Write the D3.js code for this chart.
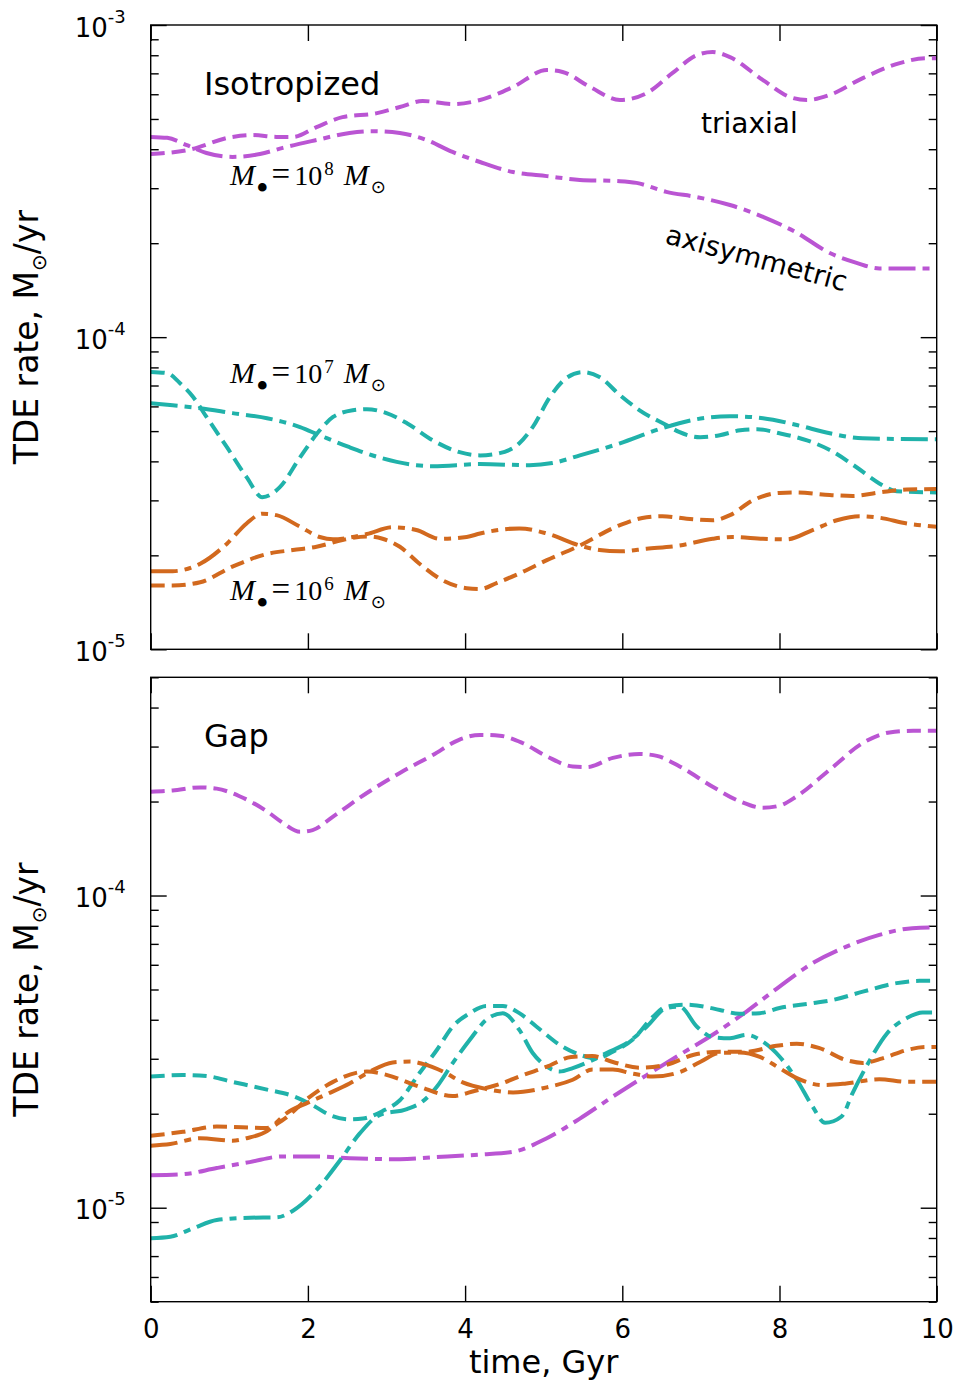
<!DOCTYPE html>
<html>
<head>
<meta charset="utf-8">
<script src="https://cdn.jsdelivr.net/npm/d3@7"></script>
<style>
  body { margin: 0; background: #fff; }
  svg { display: block; }
  text { fill: #000; }
</style>
</head>
<body>
<svg id="chart" width="961" height="1387" font-family="DejaVu Sans, sans-serif"></svg>
<script>
// time axis (Gyr)
const timeTicks = [0, 2, 4, 6, 8, 10];

// Isotropized panel: [time, rate]
const isoTriax8 = [[0,3.86e-4],[0.46,3.97e-4],[1.04,4.38e-4],[1.30,4.44e-4],[1.60,4.38e-4],[1.81,4.38e-4],[2.11,4.71e-4],[2.44,5.07e-4],[2.88,5.22e-4],[3.17,5.46e-4],[3.46,5.71e-4],[3.84,5.58e-4],[4.19,5.75e-4],[4.61,6.33e-4],[5.04,7.17e-4],[5.24,7.07e-4],[5.59,6.33e-4],[5.97,5.75e-4],[6.31,6.05e-4],[6.64,7.02e-4],[6.95,8.01e-4],[7.15,8.19e-4],[7.37,7.89e-4],[7.79,6.66e-4],[8.13,5.88e-4],[8.35,5.75e-4],[8.64,5.97e-4],[9.06,6.76e-4],[9.53,7.55e-4],[9.87,7.83e-4],[10,7.83e-4]];
const isoAxi8 = [[0,4.38e-4],[0.21,4.35e-4],[0.46,4.12e-4],[0.71,3.89e-4],[1.04,3.78e-4],[1.39,3.86e-4],[1.68,4.04e-4],[2.11,4.28e-4],[2.53,4.51e-4],[2.82,4.57e-4],[3.17,4.51e-4],[3.51,4.28e-4],[3.84,3.92e-4],[4.19,3.64e-4],[4.61,3.38e-4],[5.04,3.28e-4],[5.46,3.19e-4],[5.97,3.16e-4],[6.18,3.12e-4],[6.56,2.92e-4],[6.95,2.81e-4],[7.37,2.65e-4],[7.79,2.43e-4],[8.22,2.16e-4],[8.64,1.86e-4],[8.98,1.73e-4],[9.27,1.66e-4],[10,1.66e-4]];
const isoTriax7 = [[0,7.74e-5],[0.21,7.67e-5],[0.37,7.13e-5],[0.54,6.43e-5],[0.71,5.55e-5],[0.97,4.44e-5],[1.22,3.56e-5],[1.42,3.07e-5],[1.64,3.30e-5],[1.90,4.12e-5],[2.15,5.03e-5],[2.32,5.55e-5],[2.57,5.83e-5],[2.75,5.88e-5],[3.00,5.71e-5],[3.26,5.30e-5],[3.59,4.67e-5],[3.93,4.28e-5],[4.19,4.18e-5],[4.44,4.25e-5],[4.69,4.57e-5],[4.86,5.15e-5],[5.08,6.43e-5],[5.29,7.40e-5],[5.50,7.73e-5],[5.71,7.45e-5],[5.97,6.52e-5],[6.22,5.83e-5],[6.56,5.23e-5],[6.73,4.96e-5],[6.99,4.78e-5],[7.24,4.85e-5],[7.50,5.03e-5],[7.72,5.07e-5],[8.00,4.92e-5],[8.35,4.67e-5],[8.64,4.35e-5],[8.98,3.83e-5],[9.27,3.40e-5],[9.49,3.21e-5],[10,3.18e-5]];
const isoAxi7 = [[0,6.14e-5],[0.28,6.05e-5],[0.63,5.92e-5],[1.04,5.71e-5],[1.48,5.50e-5],[1.90,5.15e-5],[2.15,4.85e-5],[2.53,4.44e-5],[2.95,4.09e-5],[3.38,3.89e-5],[3.59,3.86e-5],[4.19,3.92e-5],[4.82,3.89e-5],[5.11,3.95e-5],[5.46,4.18e-5],[5.97,4.57e-5],[6.51,5.11e-5],[6.95,5.46e-5],[7.37,5.58e-5],[7.79,5.50e-5],[8.22,5.23e-5],[8.64,4.92e-5],[9.06,4.74e-5],[10,4.71e-5]];
const isoTriax6 = [[0,1.60e-5],[0.28,1.60e-5],[0.63,1.64e-5],[1.04,1.84e-5],[1.48,2.02e-5],[1.81,2.08e-5],[2.11,2.13e-5],[2.44,2.24e-5],[2.75,2.30e-5],[2.95,2.26e-5],[3.17,2.13e-5],[3.42,1.88e-5],[3.72,1.66e-5],[4.02,1.57e-5],[4.19,1.56e-5],[4.40,1.63e-5],[4.69,1.75e-5],[5.04,1.93e-5],[5.46,2.15e-5],[5.97,2.50e-5],[6.31,2.65e-5],[6.51,2.67e-5],[6.82,2.62e-5],[7.15,2.59e-5],[7.37,2.69e-5],[7.66,3.00e-5],[8.00,3.17e-5],[8.22,3.18e-5],[8.64,3.12e-5],[8.93,3.10e-5],[9.27,3.18e-5],[9.62,3.25e-5],[10,3.26e-5]];
const isoAxi6 = [[0,1.78e-5],[0.28,1.78e-5],[0.63,1.88e-5],[0.97,2.18e-5],[1.22,2.53e-5],[1.42,2.72e-5],[1.60,2.69e-5],[1.90,2.47e-5],[2.15,2.29e-5],[2.32,2.25e-5],[2.53,2.28e-5],[2.75,2.34e-5],[3.08,2.46e-5],[3.38,2.41e-5],[3.68,2.26e-5],[4.02,2.29e-5],[4.19,2.35e-5],[4.69,2.44e-5],[5.04,2.35e-5],[5.46,2.15e-5],[5.71,2.08e-5],[5.97,2.06e-5],[6.31,2.10e-5],[6.73,2.15e-5],[7.15,2.26e-5],[7.40,2.29e-5],[7.79,2.26e-5],[8.09,2.25e-5],[8.42,2.41e-5],[8.73,2.59e-5],[9.02,2.67e-5],[9.27,2.64e-5],[9.62,2.53e-5],[10,2.47e-5]];

// Gap panel: [time, rate]
const gapTriax8 = [[0,2.15e-4],[0.28,2.17e-4],[0.63,2.22e-4],[0.84,2.20e-4],[1.13,2.08e-4],[1.48,1.86e-4],[1.68,1.71e-4],[1.90,1.60e-4],[2.06,1.62e-4],[2.32,1.79e-4],[2.75,2.13e-4],[3.17,2.47e-4],[3.59,2.82e-4],[3.93,3.16e-4],[4.19,3.27e-4],[4.44,3.25e-4],[4.73,3.08e-4],[5.04,2.79e-4],[5.37,2.59e-4],[5.55,2.58e-4],[5.88,2.76e-4],[6.22,2.84e-4],[6.44,2.80e-4],[6.73,2.59e-4],[7.15,2.23e-4],[7.50,2.00e-4],[7.79,1.91e-4],[8.00,1.94e-4],[8.22,2.08e-4],[8.64,2.53e-4],[9.06,3.08e-4],[9.40,3.33e-4],[9.70,3.37e-4],[10,3.37e-4]];
const gapAxi8 = [[0,1.27e-5],[0.41,1.28e-5],[0.84,1.34e-5],[1.26,1.40e-5],[1.68,1.46e-5],[2.11,1.46e-5],[2.53,1.44e-5],[3.17,1.43e-5],[3.59,1.45e-5],[4.19,1.48e-5],[4.61,1.51e-5],[5.04,1.67e-5],[5.46,1.93e-5],[5.88,2.27e-5],[6.31,2.66e-5],[6.73,3.09e-5],[7.15,3.58e-5],[7.58,4.25e-5],[8.00,5.11e-5],[8.42,6.07e-5],[8.85,6.86e-5],[9.27,7.48e-5],[9.69,7.86e-5],[10,7.90e-5]];
const gapTriax7 = [[0,2.63e-5],[0.41,2.66e-5],[0.71,2.64e-5],[1.04,2.53e-5],[1.48,2.39e-5],[1.81,2.28e-5],[2.06,2.13e-5],[2.28,1.98e-5],[2.53,1.92e-5],[2.70,1.93e-5],[2.95,2.04e-5],[3.17,2.21e-5],[3.42,2.70e-5],[3.64,3.20e-5],[3.84,3.80e-5],[4.06,4.20e-5],[4.27,4.43e-5],[4.48,4.43e-5],[4.69,4.20e-5],[4.91,3.80e-5],[5.24,3.28e-5],[5.46,3.09e-5],[5.67,3.01e-5],[5.88,3.16e-5],[6.13,3.45e-5],[6.39,4.09e-5],[6.56,4.41e-5],[6.82,4.47e-5],[6.99,4.43e-5],[7.24,4.30e-5],[7.49,4.18e-5],[7.75,4.20e-5],[8.00,4.36e-5],[8.42,4.52e-5],[8.68,4.63e-5],[9.06,4.92e-5],[9.49,5.24e-5],[9.78,5.33e-5],[10,5.33e-5]];
const gapAxi7 = [[0,7.98e-6],[0.25,8.07e-6],[0.54,8.59e-6],[0.84,9.13e-6],[1.26,9.29e-6],[1.60,9.31e-6],[1.81,9.78e-6],[2.11,1.14e-5],[2.41,1.42e-5],[2.66,1.73e-5],[2.91,1.98e-5],[3.26,2.07e-5],[3.46,2.19e-5],[3.64,2.44e-5],[3.84,2.90e-5],[4.06,3.45e-5],[4.27,4.00e-5],[4.48,4.20e-5],[4.69,3.71e-5],[4.86,3.13e-5],[5.04,2.83e-5],[5.20,2.73e-5],[5.37,2.80e-5],[5.62,2.97e-5],[5.80,3.13e-5],[6.06,3.37e-5],[6.31,3.80e-5],[6.56,4.36e-5],[6.73,4.41e-5],[6.95,3.80e-5],[7.15,3.52e-5],[7.37,3.49e-5],[7.58,3.58e-5],[7.79,3.40e-5],[8.00,3.05e-5],[8.22,2.57e-5],[8.42,2.11e-5],[8.58,1.87e-5],[8.79,1.96e-5],[8.93,2.33e-5],[9.15,2.97e-5],[9.37,3.62e-5],[9.62,4.05e-5],[9.82,4.22e-5],[10,4.22e-5]];
const gapTriax6 = [[0,1.70e-5],[0.41,1.75e-5],[0.84,1.82e-5],[1.48,1.80e-5],[1.68,1.91e-5],[2.02,2.26e-5],[2.32,2.53e-5],[2.75,2.73e-5],[3.01,2.66e-5],[3.42,2.44e-5],[3.84,2.28e-5],[4.13,2.37e-5],[4.44,2.49e-5],[4.74,2.66e-5],[5.04,2.83e-5],[5.35,3.04e-5],[5.62,3.06e-5],[5.88,2.93e-5],[6.22,2.81e-5],[6.56,2.87e-5],[6.91,3.09e-5],[7.24,3.16e-5],[7.58,3.16e-5],[7.96,3.30e-5],[8.22,3.35e-5],[8.50,3.25e-5],[8.85,2.97e-5],[9.06,2.91e-5],[9.31,3.01e-5],[9.62,3.20e-5],[9.87,3.27e-5],[10,3.27e-5]];
const gapAxi6 = [[0,1.58e-5],[0.25,1.60e-5],[0.63,1.67e-5],[1.04,1.64e-5],[1.22,1.67e-5],[1.48,1.76e-5],[1.73,2.01e-5],[2.00,2.17e-5],[2.24,2.31e-5],[2.53,2.50e-5],[2.79,2.73e-5],[3.08,2.92e-5],[3.30,2.94e-5],[3.46,2.89e-5],[3.72,2.73e-5],[3.97,2.52e-5],[4.27,2.40e-5],[4.61,2.34e-5],[5.04,2.43e-5],[5.37,2.57e-5],[5.62,2.77e-5],[5.88,2.77e-5],[6.13,2.69e-5],[6.39,2.63e-5],[6.73,2.72e-5],[6.99,2.93e-5],[7.24,3.13e-5],[7.49,3.14e-5],[7.75,3.04e-5],[8.00,2.80e-5],[8.22,2.60e-5],[8.55,2.47e-5],[8.85,2.50e-5],[9.27,2.58e-5],[9.62,2.53e-5],[10,2.53e-5]];

const purple = '#ba55d3', teal = '#20b2aa', orange = '#d2691e';
const dashed = '14,7', dashDot = '27,7,7,7';

const svg = d3.select('#chart');
const left = 150.7, right = 936.7;
const x = d3.scaleLinear().domain([0, 10]).range([left, right]);

const panels = [
  { title: 'Isotropized', top: 25, bottom: 649.3, domain: [1e-5, 1e-3], majors: [1e-5, 1e-4, 1e-3],
    series: [[isoTriax8, purple, dashed], [isoAxi8, purple, dashDot], [isoTriax7, teal, dashed],
             [isoAxi7, teal, dashDot], [isoTriax6, orange, dashed], [isoAxi6, orange, dashDot]] },
  { title: 'Gap', top: 677.3, bottom: 1301.7, domain: [5e-6, 5e-4], majors: [1e-5, 1e-4],
    series: [[gapTriax8, purple, dashed], [gapAxi8, purple, dashDot], [gapTriax7, teal, dashed],
             [gapAxi7, teal, dashDot], [gapTriax6, orange, dashed], [gapAxi6, orange, dashDot]] }
];

function clean(g) {
  g.select('.domain').remove();
  g.selectAll('.tick line').attr('stroke', '#000').attr('stroke-width', 1.4);
}

panels.forEach((p, i) => {
  const y = d3.scaleLog().domain(p.domain).range([p.bottom, p.top]);
  const g = svg.append('g');
  const minors = y.ticks().filter(v => !p.majors.some(m => Math.abs(v - m) / m < 1e-6));

  // inward ticks on all four sides
  [[d3.axisLeft, left], [d3.axisRight, right]].forEach(([axis, pos]) => {
    g.append('g').attr('transform', `translate(${pos},0)`)
      .call(axis(y).tickValues(minors).tickSize(-8).tickFormat(''))
      .call(clean);
    g.append('g').attr('transform', `translate(${pos},0)`)
      .call(axis(y).tickValues(p.majors).tickSize(-16).tickFormat(''))
      .call(clean);
  });
  g.append('g').attr('transform', `translate(0,${p.top})`)
    .call(d3.axisTop(x).tickValues(timeTicks).tickSize(-16).tickFormat(''))
    .call(clean);
  const bottomAxis = g.append('g').attr('transform', `translate(0,${p.bottom})`)
    .call(d3.axisBottom(x).tickValues(timeTicks).tickSize(-16)
      .tickPadding(18).tickFormat(i === 1 ? d3.format('d') : ''))
    .call(clean);
  bottomAxis.attr('font-family', null).attr('font-size', null);
  bottomAxis.selectAll('text').attr('font-size', 26).attr('fill', '#000');

  // y labels 10^n
  g.append('g').attr('transform', `translate(${left},0)`)
    .call(d3.axisLeft(y).tickValues(p.majors).tickSize(0).tickPadding(25).tickFormat(() => '10'))
    .call(a => a.select('.domain').remove())
    .call(a => a.attr('font-family', null).attr('font-size', null))
    .selectAll('.tick text')
    .attr('font-size', 26).attr('fill', '#000').attr('dy', 11)
    .append('tspan').attr('font-size', 18).attr('dy', -14)
    .text(d => String(Math.round(Math.log10(d))));

  // lines
  const clipId = 'clip' + i;
  svg.append('clipPath').attr('id', clipId).append('rect')
    .attr('x', left).attr('y', p.top).attr('width', right - left).attr('height', p.bottom - p.top);
  const line = d3.line().x(d => x(d[0])).y(d => y(d[1])).curve(d3.curveMonotoneX);
  g.append('g').attr('clip-path', `url(#${clipId})`)
    .selectAll('path').data(p.series).enter().append('path')
    .attr('d', d => line(d[0]))
    .attr('fill', 'none')
    .attr('stroke', d => d[1])
    .attr('stroke-width', 4)
    .attr('stroke-dasharray', d => d[2]);

  // frame
  g.append('rect').attr('x', left).attr('y', p.top)
    .attr('width', right - left).attr('height', p.bottom - p.top)
    .attr('fill', 'none').attr('stroke', '#000').attr('stroke-width', 1.4);

  g.append('text').attr('x', 204).attr('y', p.top + 70).attr('font-size', 32).text(p.title);

  // y axis title
  const yt = svg.append('text')
    .attr('transform', `translate(38,${(p.top + p.bottom) / 2}) rotate(-90)`)
    .attr('text-anchor', 'middle').attr('font-size', 33);
  yt.append('tspan').text('TDE rate, M');
  yt.append('tspan').attr('font-size', 20).attr('dy', 8).text('\u2299');
  yt.append('tspan').attr('dy', -8).text('/yr');
});

// annotations, isotropized panel
svg.append('text').attr('x', 701).attr('y', 133).attr('font-size', 28).text('triaxial');
svg.append('text').attr('transform', 'translate(664,243) rotate(15)').attr('font-size', 27.5).text('axisymmetric');

function massLabel(yBase, exp) {
  const t = svg.append('text').attr('x', 230).attr('y', yBase)
    .attr('font-family', 'Liberation Serif, serif').attr('font-size', 30);
  t.append('tspan').attr('font-style', 'italic').text('M');
  t.append('tspan').attr('font-size', 36).attr('dy', 15).attr('dx', 1).text('\u2022');
  t.append('tspan').attr('font-size', 33).attr('dy', -15).attr('dx', 3).text('=');
  t.append('tspan').attr('font-size', 28).attr('dx', 4).text('10');
  t.append('tspan').attr('font-size', 19).attr('dy', -10).attr('dx', 2).text(exp);
  t.append('tspan').attr('font-style', 'italic').attr('dy', 10).attr('dx', 10).text('M');
  t.append('tspan').attr('font-size', 18).attr('dy', 8).attr('dx', 2)
    .attr('font-family', 'DejaVu Sans').text('\u2299');
}
massLabel(185, '8');
massLabel(383, '7');
massLabel(600, '6');

svg.append('text').attr('x', (left + right) / 2).attr('y', 1373)
  .attr('text-anchor', 'middle').attr('font-size', 32).text('time, Gyr');
</script>
</body>
</html>
